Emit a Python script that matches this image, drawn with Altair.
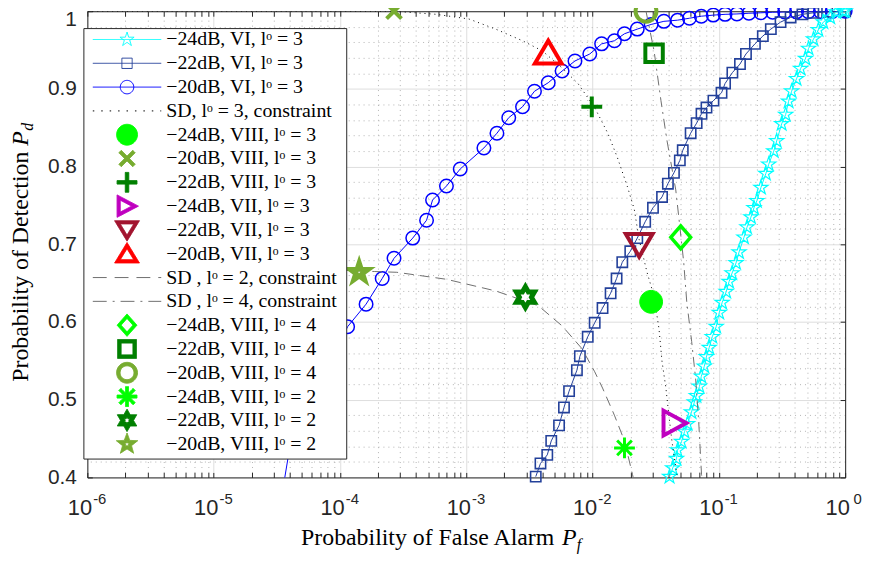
import math
import altair as alt
import pandas as pd

# ------------------------------------------------------------------ data
vi24_pf = [0.0407, 0.0431, 0.0462, 0.0471, 0.0506, 0.0535, 0.0565, 0.0607, 0.0640, 0.0664, 0.0702,
           0.0726, 0.0767, 0.0796, 0.0839, 0.0887, 0.0953, 0.1007, 0.1062, 0.1143, 0.1205, 0.1273,
           0.1368, 0.1445, 0.1581, 0.1671, 0.1795, 0.1897, 0.2000, 0.2153, 0.2355, 0.2483, 0.2723,
           0.2871, 0.3141, 0.3381, 0.3565, 0.3767, 0.4121, 0.4436, 0.4853, 0.5129, 0.5610, 0.6138,
           0.6714, 0.7621, 0.8492, 0.9640, 1.0]
vi24_pd = [0.401, 0.412, 0.424, 0.435, 0.446, 0.459, 0.469, 0.484, 0.497, 0.505, 0.517,
           0.530, 0.543, 0.555, 0.567, 0.581, 0.594, 0.612, 0.625, 0.639, 0.652, 0.663,
           0.676, 0.690, 0.709, 0.722, 0.735, 0.747, 0.756, 0.773, 0.791, 0.803, 0.820,
           0.833, 0.855, 0.867, 0.884, 0.897, 0.913, 0.926, 0.939, 0.952, 0.964, 0.976,
           0.986, 0.992, 0.9987, 1.0, 1.0]

vi22_pf = [3.55e-3, 3.87e-3, 4.38e-3, 4.71e-3, 5.43e-3, 5.94e-3, 6.52e-3, 7.52e-3, 7.94e-3, 9.16e-3,
           1.04e-2, 1.20e-2, 1.39e-2, 1.55e-2, 1.72e-2, 1.99e-2, 2.26e-2, 2.61e-2, 3.01e-2, 3.55e-2,
           3.95e-2, 4.41e-2, 4.91e-2, 5.18e-2, 5.98e-2, 6.67e-2, 7.29e-2, 7.98e-2, 9.06e-2, 0.105,
           0.112, 0.128, 0.147, 0.164, 0.193, 0.223, 0.258, 0.308, 0.370, 0.459, 0.56, 0.72, 1.0]
vi22_pd = [0.401, 0.418, 0.429, 0.447, 0.467, 0.490, 0.511, 0.538, 0.556, 0.581,
           0.599, 0.618, 0.637, 0.656, 0.677, 0.691, 0.708, 0.729, 0.747, 0.761,
           0.778, 0.792, 0.808, 0.821, 0.843, 0.856, 0.868, 0.876, 0.885, 0.895,
           0.907, 0.921, 0.932, 0.945, 0.958, 0.968, 0.977, 0.986, 0.992, 0.996, 0.998, 0.999, 1.0]

vi20_pf = [3.5e-5, 4.0e-5, 1.15e-4, 1.61e-4, 2.16e-4, 2.68e-4, 3.77e-4, 4.85e-4, 5.41e-4, 6.97e-4,
           8.96e-4, 1.38e-3, 1.75e-3, 2.17e-3, 2.79e-3, 3.47e-3, 4.46e-3, 5.74e-3, 7.26e-3, 9.51e-3,
           1.18e-2, 1.49e-2, 1.79e-2, 2.26e-2, 2.91e-2, 3.67e-2, 4.71e-2, 5.85e-2, 7.26e-2, 9.03e-2,
           0.112, 0.139, 0.173, 0.215, 0.267, 0.332, 0.412, 0.512, 0.637, 0.791, 1.0]
vi20_pd = [0.381, 0.438, 0.594, 0.623, 0.656, 0.682, 0.708, 0.731, 0.757, 0.775,
           0.797, 0.824, 0.843, 0.863, 0.877, 0.897, 0.908, 0.923, 0.936, 0.945,
           0.958, 0.962, 0.971, 0.977, 0.983, 0.987, 0.9885, 0.991, 0.9936, 0.995,
           0.996, 0.9965, 0.9974, 0.998, 0.9987, 0.999, 0.9992, 0.9994, 0.9996, 0.9998, 1.0]

sd3_pf = [1e-6, 2.68e-4, 5.81e-4, 1.05e-3, 1.71e-3, 2.79e-3, 4.00e-3, 5.74e-3, 7.66e-3, 1.04e-2,
          1.32e-2, 1.57e-2, 1.89e-2, 2.14e-2, 2.34e-2, 2.70e-2, 3.07e-2, 3.36e-2, 3.55e-2, 3.81e-2,
          4.02e-2, 4.25e-2, 4.56e-2, 4.78e-2]
sd3_pd = [1.0, 1.0, 0.996, 0.990, 0.977, 0.962, 0.949, 0.927, 0.907, 0.876,
          0.843, 0.812, 0.774, 0.745, 0.706, 0.664, 0.633, 0.591, 0.549, 0.515,
          0.480, 0.447, 0.413, 0.393]

sd2_pf = [1.0e-5, 8.91e-5, 1.87e-4, 2.82e-4, 6.97e-4, 1.71e-3, 3.72e-3, 5.74e-3, 8.22e-3, 1.04e-2,
          1.20e-2, 1.49e-2, 1.79e-2, 2.07e-2, 2.14e-2]
sd2_pd = [0.667, 0.667, 0.665, 0.664, 0.655, 0.640, 0.621, 0.595, 0.566, 0.536,
          0.515, 0.480, 0.447, 0.404, 0.393]

sd4_pf = [2.65e-2, 3.07e-2, 3.48e-2, 3.88e-2, 4.56e-2, 4.91e-2, 5.27e-2, 5.57e-2, 6.09e-2, 6.55e-2,
          6.92e-2, 7.29e-2, 7.45e-2]
sd4_pd = [1.0, 0.949, 0.885, 0.834, 0.770, 0.723, 0.677, 0.626, 0.575, 0.527,
          0.473, 0.404, 0.393]

mk_labels = ["−24dB, VIII, lᵒ = 3", "−20dB, VIII, lᵒ = 3", "−22dB, VIII, lᵒ = 3",
             "−24dB, VII, lᵒ = 3", "−22dB, VII, lᵒ = 3", "−20dB, VII, lᵒ = 3",
             "−24dB, VIII, lᵒ = 4", "−22dB, VIII, lᵒ = 4", "−20dB, VIII, lᵒ = 4",
             "−24dB, VIII, lᵒ = 2", "−22dB, VIII, lᵒ = 2", "−20dB, VIII, lᵒ = 2"]
mk_pf = [2.91e-2, 2.68e-4, 9.86e-3, 4.41e-2, 2.34e-2, 4.46e-3, 4.99e-2, 3.07e-2, 2.65e-2,
         1.79e-2, 2.94e-3, 1.42e-4]
mk_pd = [0.626, 1.0, 0.877, 0.470, 0.700, 0.946, 0.709, 0.946, 1.0, 0.438, 0.632, 0.664]

curve_labels = ["−24dB, VI, lᵒ = 3", "−22dB, VI, lᵒ = 3", "−20dB, VI, lᵒ = 3"]
sd_labels = ["SD, lᵒ = 3, constraint", "SD , lᵒ = 2, constraint", "SD , lᵒ = 4, constraint"]

x_major = [1e-6, 1e-5, 1e-4, 1e-3, 1e-2, 1e-1, 1.0]
x_exponents = ["-6", "-5", "-4", "-3", "-2", "-1", "0"]
y_major = [0.4, 0.5, 0.6, 0.7, 0.8, 0.9, 1.0]
x_minor = [k * 10.0 ** e for e in range(-6, 0) for k in range(2, 10)]
y_minor = [round(0.4 + 0.02 * i, 2) for i in range(31) if i % 5 != 0]

# ------------------------------------------------------------------ styles
AX = "#262626"
TICKF = "Liberation Sans"
SERIF = "Liberation Serif"
GRID_MAJ = "#dedede"
GRID_MIN = "#b3b3b3"
C_CYAN, C_NAVY, C_BLUE = "#00ffff", "#23409a", "#0000ff"
C_LIME, C_YG, C_DG = "#00ff00", "#77ac30", "#008000"
C_MAG, C_DRED, C_RED, C_GRAY = "#bf00bf", "#a2142f", "#ff0000", "#6e6e6e"


def star_pts(n, R, r):
    pts = []
    for k in range(2 * n):
        a = math.radians(-90 + k * 180.0 / n)
        rad = R if k % 2 == 0 else r
        pts.append((rad * math.cos(a), rad * math.sin(a)))
    return pts


def sq(h):
    return [(-h, -h), (h, -h), (h, h), (-h, h)]


# plot marker geometry (path units; symbol size 400 -> 10 px per unit)
GEOM = {
    "dot": [("circle", 1.15)],
    "x": [("poly", [(-0.75, -0.75), (0.75, 0.75)], False), ("poly", [(-0.75, 0.75), (0.75, -0.75)], False)],
    "plus": [("poly", [(-1.05, 0), (1.05, 0)], False), ("poly", [(0, -1.05), (0, 1.05)], False)],
    "tri_r": [("poly", [(-1.05, -1.25), (1.25, 0), (-1.05, 1.25)], True)],
    "tri_d": [("poly", [(-1.35, -1.05), (1.35, -1.05), (0, 1.25)], True)],
    "tri_u": [("poly", [(-1.35, 1.05), (1.35, 1.05), (0, -1.25)], True)],
    "diamond": [("poly", [(0, -1.15), (1.0, 0), (0, 1.15), (-1.0, 0)], True)],
    "square": [("poly", sq(0.88), True)],
    "ring": [("circle", 1.05)],
    "aster": [("poly", [(-1.05, 0), (1.05, 0)], False), ("poly", [(0, -1.05), (0, 1.05)], False),
              ("poly", [(-0.74, -0.74), (0.74, 0.74)], False), ("poly", [(-0.74, 0.74), (0.74, -0.74)], False)],
    "hexa": [("poly", star_pts(6, 1.05, 1.05 / math.sqrt(3)), True)],
    "penta": [("poly", star_pts(5, 0.95, 0.95 * 0.382), True)],
    "s_star": [("poly", star_pts(5, 0.75, 0.75 * 0.382), True)],
    "s_square": [("poly", sq(0.52), True)],
    "s_circle": [("circle", 0.68)],
}


def fmt(x, y, dx):
    return f"{x + dx:.3f},{y:.3f}"


def to_path(shapes, s=1.0, dx=0.0):
    out = []
    for sh in shapes:
        if sh[0] == "circle":
            r = sh[1] * s
            out.append(f"M{dx - r:.3f},0A{r:.3f},{r:.3f},0,1,1,{dx + r:.3f},0"
                       f"A{r:.3f},{r:.3f},0,1,1,{dx - r:.3f},0Z")
        else:
            d = "M" + "L".join(fmt(x * s, y * s, dx) for x, y in sh[1])
            out.append(d + ("Z" if sh[2] else ""))
    return "".join(out)


# ---- filled outlines for the legend (thick strokes drawn as filled rings)
def inset(pts, d):
    n = len(pts)
    area = sum(pts[i][0] * pts[(i + 1) % n][1] - pts[(i + 1) % n][0] * pts[i][1] for i in range(n))
    sg = 1 if area > 0 else -1
    lines = []
    for i in range(n):
        (x1, y1), (x2, y2) = pts[i], pts[(i + 1) % n]
        ex, ey = x2 - x1, y2 - y1
        ln = math.hypot(ex, ey)
        nx, ny = -ey / ln * sg, ex / ln * sg
        lines.append((x1 + nx * d, y1 + ny * d, ex, ey))
    out = []
    for i in range(n):
        px, py, ax_, ay_ = lines[i - 1]
        qx, qy, bx, by = lines[i]
        den = ax_ * by - ay_ * bx
        t = ((qx - px) * by - (qy - py) * bx) / den
        out.append((px + t * ax_, py + t * ay_))
    return out


def poly_d(pts, dx):
    return "M" + "L".join(fmt(x, y, dx) for x, y in pts) + "Z"


def ring_poly(pts, t, dx):
    return poly_d(pts, dx) + poly_d(list(reversed(inset(pts, t))), dx)


def ring_circle(r, t, dx):
    ri = r - t
    return (f"M{dx - r:.3f},0A{r:.3f},{r:.3f},0,1,1,{dx + r:.3f},0A{r:.3f},{r:.3f},0,1,1,{dx - r:.3f},0Z"
            f"M{dx - ri:.3f},0A{ri:.3f},{ri:.3f},0,1,0,{dx + ri:.3f},0A{ri:.3f},{ri:.3f},0,1,0,{dx - ri:.3f},0Z")


def bar(a, b, w, dx):
    (x1, y1), (x2, y2) = a, b
    ln = math.hypot(x2 - x1, y2 - y1)
    nx, ny = -(y2 - y1) / ln * w / 2, (x2 - x1) / ln * w / 2
    return poly_d([(x1 + nx, y1 + ny), (x2 + nx, y2 + ny), (x2 - nx, y2 - ny), (x1 - nx, y1 - ny)], dx)


def u(pts):
    return [(x / 10.0, y / 10.0) for x, y in pts]


def legend_marker(kind, dx):
    if kind == "dot":
        r = 1.05
        return f"M{dx - r:.3f},0A{r},{r},0,1,1,{dx + r:.3f},0A{r},{r},0,1,1,{dx - r:.3f},0Z"
    if kind == "x":
        return bar((-0.7, -0.7), (0.7, 0.7), 0.35, dx) + bar((-0.7, 0.7), (0.7, -0.7), 0.35, dx)
    if kind == "plus":
        return bar((-1.0, 0), (1.0, 0), 0.35, dx) + bar((0, -1.0), (0, 1.0), 0.35, dx)
    if kind == "aster":
        return (bar((-1.0, 0), (1.0, 0), 0.3, dx) + bar((0, -1.0), (0, 1.0), 0.3, dx)
                + bar((-0.72, -0.72), (0.72, 0.72), 0.3, dx) + bar((-0.72, 0.72), (0.72, -0.72), 0.3, dx))
    if kind == "tri_r":
        return ring_poly(u([(-10, -11.3), (11.5, 0), (-10, 11.3)]), 0.32, dx)
    if kind == "tri_d":
        return ring_poly(u([(-12.5, -9.3), (12.5, -9.3), (0, 11.3)]), 0.32, dx)
    if kind == "tri_u":
        return ring_poly(u([(-12.5, 9.3), (12.5, 9.3), (0, -11.3)]), 0.32, dx)
    if kind == "diamond":
        return ring_poly(u([(0, -11.3), (10, 0), (0, 11.3), (-10, 0)]), 0.3, dx)
    if kind == "square":
        return ring_poly(u(sq(9.5)), 0.35, dx)
    if kind == "ring":
        return ring_circle(1.05, 0.35, dx)
    if kind == "hexa":
        outer = star_pts(6, 1.13, 1.13 / math.sqrt(3))
        hole = star_pts(6, 0.32, 0.32 / math.sqrt(3))
        return poly_d(outer, dx) + poly_d(list(reversed(hole)), dx)
    if kind == "penta":
        outer = star_pts(5, 1.13, 1.13 * 0.42)
        hole = star_pts(5, 0.3, 0.3 * 0.42)
        return poly_d(outer, dx) + poly_d(list(reversed(hole)), dx)
    return to_path(GEOM[kind], 1.0, dx)


# plot marker styles: geometry, stroke, fill, stroke width
MK_STYLE = [
    ("dot", C_LIME, C_LIME, 1.0),
    ("x", C_YG, "transparent", 4.0),
    ("plus", C_DG, "transparent", 4.0),
    ("tri_r", C_MAG, "transparent", 4.0),
    ("tri_d", C_DRED, "transparent", 4.0),
    ("tri_u", C_RED, "transparent", 4.0),
    ("diamond", C_LIME, "transparent", 3.5),
    ("square", C_DG, "transparent", 4.0),
    ("ring", C_YG, "transparent", 4.0),
    ("aster", C_LIME, "transparent", 3.0),
    ("hexa", C_DG, "transparent", 5.0),
    ("penta", C_YG, "transparent", 5.0),
]

# legend entries: label -> (marker kind, colour, fill, dash, has line)
entry = {}
entry[curve_labels[0]] = ("s_star", C_CYAN, "transparent", [1, 0], True)
entry[curve_labels[1]] = ("s_square", C_NAVY, "transparent", [1, 0], True)
entry[curve_labels[2]] = ("s_circle", C_BLUE, "transparent", [1, 0], True)
entry[sd_labels[0]] = (None, "black", "transparent", [1.5, 7], True)
entry[sd_labels[1]] = (None, C_GRAY, "transparent", [14, 8], True)
entry[sd_labels[2]] = (None, C_GRAY, "transparent", [14, 6, 2, 6], True)
for lab, st in zip(mk_labels, MK_STYLE):
    entry[lab] = (st[0], st[1], st[1], [1, 0], False)

legend_order = (curve_labels + [sd_labels[0]] + mk_labels[:6] + sd_labels[1:] + mk_labels[6:])

# legend geometry
SW = 1.0          # legend symbol stroke width
EXP = 2 * SW      # bounds growth of a stroked symbol
B = 13.5          # half height of every entry's bounds
ROW = 22.8        # wanted distance between rows
PAD = 1.0
BOX_LEFT = 84.0   # legend frame position handed to vega (frame lands ~2px left)
SHIFT = 2.5       # horizontal correction of the entries
CONTENT_W = 265.0 - 2 * PAD
OFF = max(math.ceil(20 + SW), 20)
XC = OFF / 2.0
C0 = (BOX_LEFT - 2) + PAD + XC - SHIFT
lg_paths, lg_colors, lg_fills, lg_dash = [], [], [], []
for lab in legend_order:
    kind, col, fil, dash, line = entry[lab]
    parts = []
    if line:
        parts.append(f"M{(89 - C0) / 10:.3f},0L{(158 - C0) / 10:.3f},0")
    if kind:
        parts.append(legend_marker(kind, (123.5 - C0) / 10))
    L = (EXP - XC) / 10
    R = (CONTENT_W - XC - EXP) / 10
    H = (B - EXP) / 10
    parts.append(f"M{L:.3f},{-H:.3f}M{R:.3f},{H:.3f}")
    lg_paths.append("".join(parts))
    lg_colors.append(col)
    lg_fills.append(fil)
    lg_dash.append(dash)

# ------------------------------------------------------------------ scales / axes
XS = alt.Scale(type="log", domain=[1e-6, 1.0], nice=False)
YS = alt.Scale(domain=[0.4, 1.0], nice=False, zero=False)


def ax(**kw):
    base = dict(labels=False, ticks=False, domain=False, grid=False, title="", tickSize=0)
    base.update(kw)
    return alt.Axis(**base)


exp_js = "[" + ",".join(f"'{e}'" for e in x_exponents) + "]"
title_kw = dict(titleFont=SERIF, titleFontWeight="normal", titleColor="black",
                titleAlign="left", titleBaseline="alphabetic")

x_main = ax(orient="bottom", values=x_major, labels=True, labelExpr="'10'", labelFont=TICKF,
            labelFontSize=22, labelColor=AX, labelOffset=-8, labelPadding=20, labelOverlap=False,
            labelFlush=False, domain=True, domainColor=AX, domainWidth=1, grid=True,
            gridColor=GRID_MAJ, gridWidth=1, title="Probability of False Alarm",
            titleFontSize=24, titleX=215, titleY=68, titleAngle=0, **title_kw)
x_sup = ax(orient="bottom", values=x_major, labels=True,
           labelExpr=exp_js + "[round(log(datum.value)/LN10)+6]", labelFont=TICKF,
           labelFontSize=15, labelColor=AX, labelOffset=12, labelPadding=14, labelOverlap=False,
           labelFlush=False, title="P", titleFontSize=24, titleFontStyle="italic",
           titleX=478, titleY=68, titleAngle=0, **title_kw)
x_box = ax(orient="top", values=x_minor, domain=True, domainColor=AX, grid=True,
           gridColor=GRID_MIN, gridDash=[1, 4], gridWidth=1, title="f", titleFontSize=16,
           titleFontStyle="italic", titleX=493, titleY=543, titleAngle=0, **title_kw)
x_tb = ax(orient="bottom", offset=-5, values=x_major + x_minor, ticks=True, tickSize=5,
          tickColor=AX, tickWidth=1)
x_tt = ax(orient="top", offset=-5, values=x_major + x_minor, ticks=True, tickSize=5,
          tickColor=AX, tickWidth=1)

y_main = ax(orient="left", values=y_major, labels=True, format="~g", labelFont=TICKF,
            labelFontSize=21, labelColor=AX, labelPadding=11,
            labelOffset={"condition": {"test": "datum.value == 1", "value": 8}, "value": 0},
            domain=True, domainColor=AX,
            domainWidth=1, grid=True, gridColor=GRID_MAJ, gridWidth=1,
            title="Probability of Detection", titleFontSize=24, titleAngle=270,
            titleX=-60, titleY=373, **title_kw)
y_box = ax(orient="right", values=y_minor, domain=True, domainColor=AX, grid=True,
           gridColor=GRID_MIN, gridDash=[1, 4], gridWidth=1, title="P", titleFontSize=24,
           titleFontStyle="italic", titleAngle=270, titleX=-824, titleY=135, **title_kw)
y_tl = ax(orient="left", offset=-5, values=y_major, ticks=True, tickSize=5, tickColor=AX,
          title="d", titleFontSize=16, titleFontStyle="italic", titleAngle=270,
          titleX=-60, titleY=120, **title_kw)
y_tr = ax(orient="right", offset=-5, values=y_major, ticks=True, tickSize=5, tickColor=AX)


def df_of(pf, pdv):
    return pd.DataFrame({"pf": pf, "pd": pdv, "i": list(range(len(pf)))})


def xy(xa, ya):
    return dict(x=alt.X("pf:Q", scale=XS, axis=xa), y=alt.Y("pd:Q", scale=YS, axis=ya),
                order=alt.Order("i:Q"))


def curve_line(pf, pdv, color, xa, ya, dash=None, width=1.0):
    kw = dict(color=color, strokeWidth=width, clip=True)
    if dash:
        kw["strokeDash"] = dash
    return alt.Chart(df_of(pf, pdv)).mark_line(**kw).encode(**xy(xa, ya))


def curve_pts(pf, pdv, color, geom, sw, xa, ya):
    return (alt.Chart(df_of(pf, pdv)).transform_filter("datum.pd >= 0.399")
            .mark_point(shape=to_path(GEOM[geom]), size=400, filled=False, color=color,
                        strokeWidth=sw, opacity=1)
            .encode(x=alt.X("pf:Q", scale=XS, axis=xa), y=alt.Y("pd:Q", scale=YS, axis=ya)))


l_vi20 = curve_line(vi20_pf, vi20_pd, C_BLUE, x_main, y_main)
p_vi20 = curve_pts(vi20_pf, vi20_pd, C_BLUE, "s_circle", 1.5, x_sup, y_box)
l_vi22 = curve_line(vi22_pf, vi22_pd, C_NAVY, x_box, y_tl)
p_vi22 = curve_pts(vi22_pf, vi22_pd, C_NAVY, "s_square", 1.6, x_tb, y_tr)
l_vi24 = curve_line(vi24_pf, vi24_pd, C_CYAN, x_tt, None)
p_vi24 = curve_pts(vi24_pf, vi24_pd, C_CYAN, "s_star", 1.2, None, None)
l_sd3 = curve_line(sd3_pf, sd3_pd, "black", None, None, dash=[1, 4])
l_sd2 = curve_line(sd2_pf, sd2_pd, C_GRAY, None, None, dash=[10, 6])
l_sd4 = curve_line(sd4_pf, sd4_pd, C_GRAY, None, None, dash=[10, 5, 2, 5])

mk_df = pd.DataFrame({"pf": mk_pf, "pd": mk_pd, "label": mk_labels})
markers = alt.Chart(mk_df).mark_point(size=400, opacity=1).encode(
    x=alt.X("pf:Q", scale=XS, axis=None),
    y=alt.Y("pd:Q", scale=YS, axis=None),
    shape=alt.Shape("label:N", legend=None,
                    scale=alt.Scale(domain=mk_labels, range=[to_path(GEOM[s[0]]) for s in MK_STYLE])),
    stroke=alt.Stroke("label:N", legend=None,
                      scale=alt.Scale(domain=mk_labels, range=[s[1] for s in MK_STYLE])),
    fill=alt.Fill("label:N", legend=None,
                  scale=alt.Scale(domain=mk_labels, range=[s[2] for s in MK_STYLE])),
    strokeWidth=alt.StrokeWidth("label:N", legend=None,
                                scale=alt.Scale(type="ordinal", domain=mk_labels,
                                                range=[s[3] for s in MK_STYLE])),
)

lg_df = pd.DataFrame({"entry": legend_order})
legend_layer = alt.Chart(lg_df).mark_point(size=400, opacity=0).encode(
    shape=alt.Shape("entry:N", title=None, scale=alt.Scale(domain=legend_order, range=lg_paths)),
    stroke=alt.Stroke("entry:N", title=None, scale=alt.Scale(domain=legend_order, range=lg_colors)),
    fill=alt.Fill("entry:N", title=None, scale=alt.Scale(domain=legend_order, range=lg_fills)),
    strokeDash=alt.StrokeDash("entry:N", title=None,
                              scale=alt.Scale(domain=legend_order, range=lg_dash)),
)

chart = (
    alt.layer(l_vi20, p_vi20, l_vi22, p_vi22, l_vi24, p_vi24, l_sd3, l_sd2, l_sd4, markers,
              legend_layer)
    .resolve_scale(shape="independent", stroke="independent", fill="independent",
                   strokeWidth="independent", strokeDash="independent")
    .resolve_axis(x="independent", y="independent")
    .properties(width=764, height=470, autosize=alt.AutoSizeParams(type="none"),
                padding={"left": 80, "top": 1, "right": 18, "bottom": 80},
                background="white")
    .configure_view(stroke="transparent")
    .configure_legend(orient="none", legendX=BOX_LEFT - 88, legendY=17, padding=PAD,
                      rowPadding=ROW - 2 * B - 2.8, labelOffset=163 - (C0 - XC) - OFF,
                      labelFont=SERIF, labelFontSize=20, labelColor="black", labelLimit=400,
                      symbolSize=400, symbolStrokeWidth=SW, fillColor="white", strokeColor=AX,
                      symbolOpacity=1)
)

chart.save("out.html", embed_options={"renderer": "svg", "actions": False})
